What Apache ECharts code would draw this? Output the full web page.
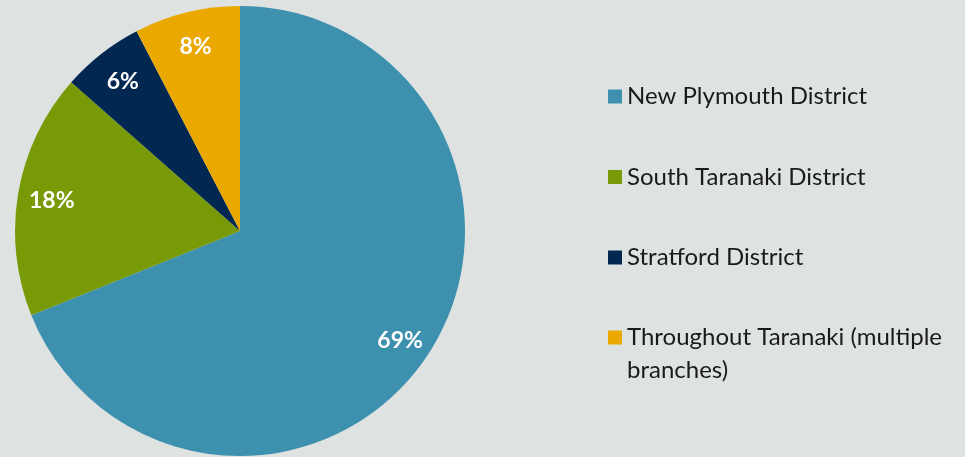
<!DOCTYPE html>
<html>
<head>
<meta charset="utf-8">
<script src="https://cdn.jsdelivr.net/npm/echarts@6/dist/echarts.min.js"></script>
<style>
html,body{margin:0;padding:0;background:#dee3e2;}
#chart{width:965px;height:457px;}
</style>
</head>
<body>
<div id="chart"></div>
<script>
const categories = ['New Plymouth District', 'South Taranaki District', 'Stratford District', 'Throughout Taranaki (multiple branches)'];
const legendLabels = ['New Plymouth District', 'South Taranaki District', 'Stratford District', '\nThroughout Taranaki (multiple\nbranches)'];
const values = [68.9, 17.6, 5.9, 7.6];
const colors = ['#3d90ae', '#789a07', '#022851', '#eba900'];

const data = categories.map((c, i) => ({ name: c, value: values[i], itemStyle: { color: colors[i] } }));
const labelMap = {};
categories.forEach((c, i) => labelMap[c] = legendLabels[i]);

const chart = echarts.init(document.getElementById('chart'));
const legendText = { color: '#1a1a1a', fontFamily: 'Lato', fontSize: 24, lineHeight: 33 };
chart.setOption({
  backgroundColor: '#dee3e2',
  animation: false,
  legend: [
    {
      orient: 'vertical', left: 608, top: 80, padding: 0, itemGap: 47.5,
      icon: 'rect', itemWidth: 14, itemHeight: 14,
      data: categories.slice(0, 3),
      formatter: n => labelMap[n],
      textStyle: legendText, selectedMode: false
    },
    {
      orient: 'vertical', left: 608, top: 288, padding: 0,
      icon: 'rect', itemWidth: 14, itemHeight: 14,
      data: categories.slice(3),
      formatter: n => labelMap[n],
      textStyle: legendText, selectedMode: false
    }
  ],
  series: [
    {
      type: 'pie', center: [240, 231], radius: 225, startAngle: 90, clockwise: true,
      data: data, label: { show: false }, labelLine: { show: false }, silent: true
    },
    {
      type: 'pie', center: [240, 231], radius: [153, 225], startAngle: 90, clockwise: true,
      data: data.map(d => ({ name: d.name, value: d.value, itemStyle: { color: 'rgba(0,0,0,0)' } })),
      label: {
        show: true, position: 'inside', color: '#ffffff', fontFamily: 'Lato', fontWeight: 'bold', fontSize: 23,
        offset: [1, 2],
        formatter: p => Math.round(p.value) + '%'
      },
      labelLine: { show: false }, silent: true
    }
  ]
});
</script>
</body>
</html>
